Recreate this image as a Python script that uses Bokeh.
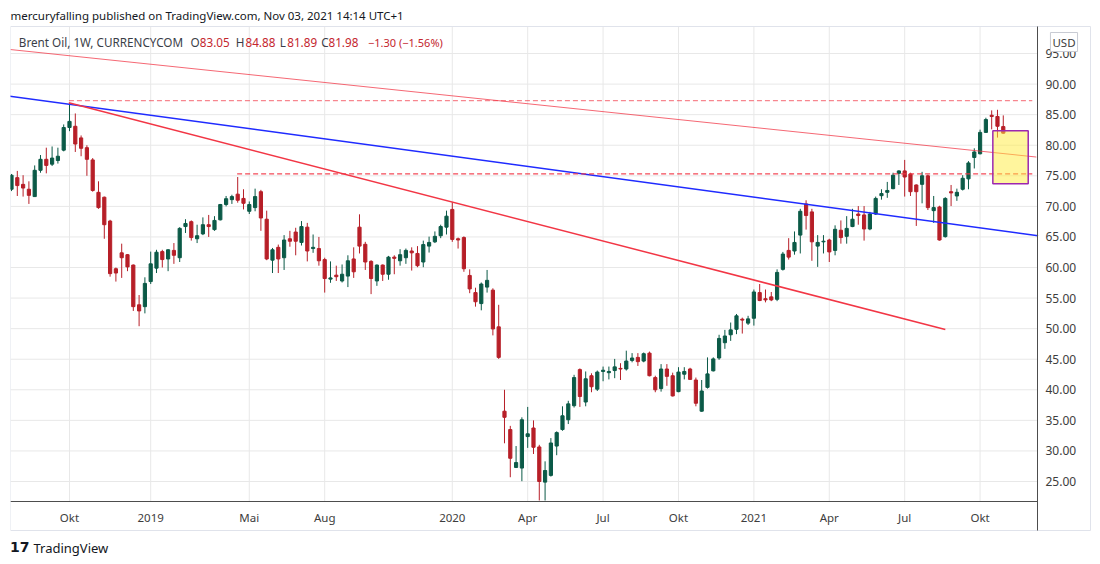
import pandas as pd
import numpy as np
from bokeh.plotting import figure
from bokeh.models import Range1d, FixedTicker, NumeralTickFormatter, Label, ColumnDataSource
from bokeh.embed import file_html
from bokeh.resources import INLINE

# ---------------- data ----------------
first_week = "2018-07-23"

opens = [72.8, 74.7, 73.6, 72.8, 71.6, 75.9, 77.7, 76.9, 77.5, 79.2,
         82.9, 83.1, 81.2, 79.6, 77.6, 72.3, 71.5, 67.6, 59.8, 62.4,
         62.1, 60.4, 53.9, 53.6, 57.7, 59.9, 62.6, 61.4, 62.8, 61.6,
         66.7, 67.5, 64.7, 65.5, 67.0, 66.2, 67.8, 70.3, 71.1, 72.0,
         71.3, 69.2, 69.8, 72.4, 67.9, 61.2, 63.3, 61.6, 64.7, 65.8,
         64.1, 66.6, 63.1, 63.1, 61.3, 58.1, 58.75, 57.8, 58.6, 61.4,
         66.6, 63.8, 61.0, 57.8, 60.4, 58.9, 61.7, 61.1, 61.6, 62.7,
         62.3, 60.9, 63.5, 64.2, 65.2, 66.6, 69.5, 64.7, 64.9, 58.7,
         55.9, 54.1, 56.8, 56.3, 50.3, 36.5, 33.5, 27.3, 27.2, 32.35,
         33.75, 30.65, 24.9, 26.0, 30.8, 33.5, 35.1, 37.4, 43.3, 38.0,
         42.3, 40.1, 43.0, 42.8, 43.15, 43.5, 43.4, 44.8, 45.3, 44.7,
         46.0, 42.0, 40.2, 43.4, 42.3, 39.7, 42.55, 43.4, 41.6, 36.5,
         40.4, 43.1, 45.2, 47.7, 49.0, 49.9, 51.55, 50.9, 51.7, 55.9,
         54.9, 55.2, 54.8, 59.7, 62.8, 62.7, 65.3, 70.4, 69.1, 63.5,
         64.2, 64.5, 62.8, 66.1, 65.1, 66.7, 68.75, 68.6, 66.3, 68.75,
         71.75, 72.3, 72.9, 75.4, 75.8, 75.3, 73.5, 73.6, 75.0, 69.3,
         69.9, 65.05, 72.4, 71.7, 72.8, 74.5, 78.0, 78.6, 82.1, 84.9,
         84.7, 83.05]
highs = [75.3, 75.8, 75.1, 74.1, 76.7, 78.4, 79.6, 79.8, 79.6, 83.4,
         86.9, 85.2, 81.6, 80.0, 77.9, 74.1, 71.6, 67.8, 60.0, 63.9,
         62.2, 60.5, 55.5, 58.4, 62.6, 62.9, 62.9, 63.0, 64.0, 66.6,
         67.9, 67.7, 67.0, 68.2, 68.6, 68.4, 70.4, 71.7, 71.9, 74.8,
         72.8, 70.8, 72.9, 72.7, 69.3, 63.2, 63.75, 65.3, 66.0, 66.5,
         67.6, 67.3, 65.4, 65.0, 61.6, 61.0, 60.3, 60.5, 62.0, 63.3,
         68.7, 64.2, 61.2, 60.5, 60.5, 61.9, 62.0, 63.0, 63.1, 63.3,
         63.5, 64.4, 65.05, 65.9, 67.0, 69.3, 70.7, 64.9, 65.1, 59.7,
         56.7, 57.55, 59.6, 56.6, 53.9, 40.0, 34.1, 30.8, 35.5, 37.2,
         35.0, 31.0, 28.3, 32.1, 33.2, 37.3, 38.2, 42.45, 43.5, 43.0,
         42.7, 43.15, 43.8, 43.8, 45.05, 44.35, 46.4, 46.0, 46.0, 46.1,
         46.25, 42.3, 44.2, 44.2, 42.8, 43.7, 43.7, 43.6, 42.0, 41.6,
         45.3, 45.3, 49.0, 49.8, 51.0, 52.4, 51.8, 52.1, 56.4, 57.3,
         56.4, 56.0, 59.7, 62.55, 64.8, 65.9, 69.6, 71.0, 69.6, 65.3,
         65.3, 64.7, 66.9, 67.7, 68.4, 69.6, 70.05, 70.05, 69.1, 71.6,
         72.8, 74.0, 75.5, 75.9, 77.6, 75.5, 73.6, 75.65, 75.2, 71.7,
         70.1, 71.5, 73.5, 72.9, 75.1, 77.4, 79.5, 82.55, 84.5, 85.7,
         85.8, 84.88]
lows = [72.5, 71.7, 71.6, 70.4, 71.6, 75.5, 75.4, 76.6, 77.0, 79.0,
        82.3, 78.9, 78.2, 75.0, 72.4, 69.6, 64.7, 58.5, 57.7, 58.3,
        59.4, 52.9, 50.4, 52.5, 57.3, 59.1, 60.0, 59.4, 60.6, 60.9,
        65.65, 64.4, 64.0, 65.3, 65.0, 66.0, 67.7, 70.0, 70.4, 70.6,
        69.5, 68.75, 69.2, 66.0, 61.2, 59.1, 59.1, 59.6, 63.4, 62.0,
        63.6, 61.0, 62.4, 60.3, 55.9, 57.5, 57.8, 57.55, 56.8, 58.3,
        62.3, 59.6, 55.65, 57.0, 57.8, 58.0, 58.9, 60.3, 60.6, 59.5,
        60.05, 60.05, 62.45, 64.0, 64.8, 65.4, 64.2, 63.1, 59.3, 55.8,
        53.6, 53.0, 55.9, 48.9, 45.05, 31.25, 25.7, 27.2, 25.05, 30.5,
        29.5, 21.9, 21.9, 25.8, 29.3, 33.3, 34.4, 37.1, 37.2, 37.3,
        39.6, 39.8, 41.4, 41.7, 41.9, 41.6, 43.15, 44.5, 43.9, 44.5,
        42.2, 39.6, 39.7, 40.65, 38.9, 39.6, 41.7, 41.6, 37.3, 36.4,
        40.2, 43.0, 44.9, 46.7, 48.0, 49.1, 49.2, 50.6, 50.5, 54.5,
        54.3, 54.5, 54.5, 59.5, 61.3, 62.1, 62.3, 66.2, 61.1, 60.1,
        62.3, 60.9, 62.0, 63.9, 63.9, 66.6, 67.0, 64.4, 66.1, 68.6,
        71.1, 71.4, 72.8, 73.5, 71.6, 71.7, 66.8, 70.5, 69.4, 67.3,
        64.4, 64.9, 70.05, 70.9, 72.6, 72.8, 76.2, 78.5, 82.05, 82.6,
        81.25, 81.89]
closes = [75.1, 73.4, 73.0, 71.8, 75.9, 77.7, 76.7, 77.9, 78.2, 82.9,
          83.9, 80.2, 79.5, 77.7, 72.6, 69.8, 67.0, 59.0, 59.1, 61.6,
          60.1, 53.6, 52.9, 57.4, 60.6, 62.5, 61.3, 62.9, 62.0, 66.4,
          67.2, 64.9, 65.2, 67.0, 66.7, 67.7, 70.3, 71.25, 71.6, 71.0,
          70.5, 70.3, 71.6, 68.1, 61.4, 62.9, 61.4, 64.5, 64.3, 64.3,
          66.7, 62.7, 63.3, 61.1, 58.2, 58.3, 58.5, 58.9, 61.1, 59.3,
          63.5, 60.9, 58.2, 60.4, 58.9, 61.7, 61.5, 62.1, 62.8, 62.4,
          60.3, 63.75, 64.1, 65.1, 66.7, 68.4, 64.6, 64.5, 59.8, 56.5,
          54.4, 57.3, 57.9, 49.95, 45.3, 35.5, 28.8, 28.1, 35.1, 32.8,
          30.6, 25.0, 26.8, 31.3, 33.0, 35.75, 37.7, 42.0, 38.9, 41.8,
          40.5, 42.9, 43.2, 43.0, 43.75, 43.4, 44.7, 45.2, 44.6, 45.9,
          42.3, 40.0, 43.4, 42.2, 39.0, 42.9, 43.0, 41.7, 37.8, 39.8,
          42.6, 45.05, 48.4, 48.8, 49.8, 52.1, 51.4, 51.6, 56.0, 54.6,
          54.7, 54.7, 59.2, 62.2, 61.7, 64.1, 69.2, 68.5, 64.2, 64.1,
          64.3, 62.55, 66.25, 64.9, 66.4, 67.9, 68.5, 66.3, 68.75, 71.3,
          72.1, 72.6, 75.1, 75.8, 74.8, 72.4, 72.4, 75.0, 69.8, 69.8,
          64.5, 71.3, 72.2, 72.3, 74.6, 77.1, 78.9, 82.1, 84.2, 84.7,
          83.1, 81.98]

tick_months = ["2018-10", "2019-01", "2019-05", "2019-08", "2020-01", "2020-04",
               "2020-07", "2020-10", "2021-01", "2021-04", "2021-07", "2021-10"]
tick_labels = ["Okt", "2019", "Mai", "Aug", "2020", "Apr", "Jul", "Okt",
               "2021", "Apr", "Jul", "Okt"]
price_ticks = [25, 30, 35, 40, 45, 50, 55, 60, 65, 70, 75, 80, 85, 90, 95]

# drawings: (bar index, price)
upper_trend_x = [-0.17, 176.7]
upper_trend_y = [95.65, 78.07]
blue_trend_x = [-1.03, 177.0]
blue_trend_y = [88.13, 65.18]
red_trend_x = [9.88, 161.0]
red_trend_y = [86.94, 49.86]
high_level_x = [9.9, 176.0]
high_level_y = [87.3, 87.3]
mid_level_x = [38.9, 176.0]
mid_level_y = [75.3, 75.3]
box_left, box_right = 169.2, 175.3
box_top, box_bottom = 82.36, 73.7

# visible pane: bar/price extents
bar_left, bar_right = -0.1724, 176.9
price_bottom, price_top = 21.73, 99.42

# ---------------- layout (pixels) ----------------
W, H = 1100, 564
PANE_L, PANE_R, PANE_T, PANE_B = 10, 1037, 26, 501
BORDER_R, BORDER_B = 1090, 530

px_bar = (PANE_R - PANE_L) / (bar_right - bar_left)
px_price = (PANE_B - PANE_T) / (price_top - price_bottom)
x_end = bar_left + (W - PANE_L) / px_bar
y_hi = price_top + PANE_T / px_price
y_lo = price_bottom - (H - PANE_B) / px_price
border_bar = bar_left + (BORDER_R - PANE_L) / px_bar
border_price = price_bottom - (BORDER_B - PANE_B) / px_price

# ---------------- derived ----------------
n = len(opens)
dates = pd.date_range(first_week, periods=n, freq="7D")
idx = np.arange(n)
o = np.array(opens); h = np.array(highs); l = np.array(lows); c = np.array(closes)
GREEN = "#0b5a47"
RED = "#b71f28"
cols = [GREEN if cc >= oo else RED for oo, cc in zip(o, c)]
src = ColumnDataSource(dict(x=idx, o=o, h=h, l=l, c=c,
                            top=np.maximum(o, c), bot=np.minimum(o, c), col=cols))

month_str = dates.strftime("%Y-%m")
tick_idx = [int(np.where(month_str == m)[0][0]) for m in tick_months]

FONT = "Noto Sans"
DARK = "#131722"

p = figure(width=W, height=H, output_backend="svg", toolbar_location=None,
           x_range=Range1d(bar_left, x_end), y_range=Range1d(y_lo, y_hi),
           y_axis_location="right",
           min_border_left=PANE_L, min_border_right=0, min_border_top=0, min_border_bottom=0)
p.background_fill_color = "white"
p.border_fill_color = "white"
p.outline_line_color = None
p.grid.visible = False

# grid lines (drawn inside the pane only)
p.segment(x0=tick_idx, x1=tick_idx, y0=[price_bottom] * len(tick_idx),
          y1=[price_top] * len(tick_idx), line_color="#e8e8e8", line_width=1, level="underlay")
p.segment(x0=[bar_left] * len(price_ticks), x1=[bar_right] * len(price_ticks),
          y0=price_ticks, y1=price_ticks, line_color="#e8e8e8", line_width=1, level="underlay")
# outer border of the chart widget
p.quad(left=[bar_left], right=[border_bar], top=[price_top], bottom=[border_price],
       fill_color=None, line_color="#e0e3eb", line_width=1, level="underlay")

# axes, pinned to the pane edges
xa = p.xaxis[0]
ya = p.yaxis[0]
xa.ticker = FixedTicker(ticks=tick_idx)
xa.major_label_overrides = {t: lab for t, lab in zip(tick_idx, tick_labels)}
xa.fixed_location = price_bottom
xa.bounds = (bar_left, bar_right)
ya.ticker = FixedTicker(ticks=price_ticks)
ya.formatter = NumeralTickFormatter(format="0.00")
ya.fixed_location = bar_right
ya.bounds = (border_price, price_top)
for ax in (xa, ya):
    ax.axis_line_color = "#4d4d4d"
    ax.major_tick_line_color = None
    ax.minor_tick_line_color = None
    ax.major_tick_out = 0
    ax.major_tick_in = 0
    ax.major_label_text_font = FONT
    ax.major_label_text_color = "#3d3d3d"
    ax.major_label_standoff = 8
xa.major_label_text_font_size = "11.5px"
ya.major_label_text_font_size = "12px"

# candles
p.segment(x0="x", y0="l", x1="x", y1="h", color="col", line_width=1, source=src)
p.vbar(x="x", width=0.55, top="top", bottom="bot", fill_color="col", line_color="col",
       line_width=1, source=src)

# drawings
p.line(upper_trend_x, upper_trend_y, line_color="#f23645", line_alpha=0.75, line_width=1)
p.line(blue_trend_x, blue_trend_y, line_color="#1f2bff", line_width=1.5)
p.line(red_trend_x, red_trend_y, line_color="#f23645", line_width=1.5)
p.line(high_level_x, high_level_y, line_color="#f23645", line_alpha=0.6, line_width=1.2,
       line_dash="5 3")
p.line(mid_level_x, mid_level_y, line_color="#f23645", line_alpha=0.9, line_width=1.2,
       line_dash="5 3")
p.quad(left=[box_left], right=[box_right], top=[box_top], bottom=[box_bottom],
       fill_color="#ffeb3b", fill_alpha=0.5, line_color="#9c27b0", line_width=1.5)


# texts (canvas pixel coords -> frame screen coords)
def txt(s, rx, ry, size="11.7px", color=DARK, align="left", style="normal", font=FONT, **kw):
    p.add_layout(Label(x=rx - PANE_L, y=H - ry, x_units="screen", y_units="screen", text=s,
                       text_font=font, text_font_size=size, text_color=color,
                       text_align=align, text_baseline="middle", text_font_style=style, **kw))


GREY = "#3a3e48"
VAL = "#c4262e"
txt("mercuryfalling published on TradingView.com, Nov 03, 2021 14:14 UTC+1", 10, 14.5,
    size="11.5px")
txt("Brent Oil, 1W, CURRENCYCOM", 18.3, 41.7, color=GREY)
txt("O", 190, 41.7, color=GREY)
txt("83.05", 199.3, 41.7, color=VAL)
txt("H", 235.3, 41.7, color=GREY)
txt("84.88", 245, 41.7, color=VAL)
txt("L", 279.3, 41.7, color=GREY)
txt("81.89", 286.7, 41.7, color=VAL)
txt("C", 320.7, 41.7, color=GREY)
txt("81.98", 328, 41.7, color=VAL)
txt("\u22121.30 (\u22121.56%)", 367.5, 41.7, size="11px", color=VAL)
txt("USD", 1063.5, 41.5, size="11.5px", color="#3d3d3d", align="center",
    background_fill_color="white", border_line_color="#c8cbd3", border_line_width=1,
    padding=2)
txt("17", 9.5, 546.5, size="14px", style="bold", font="DejaVu Sans")
txt("TradingView", 33, 547, size="13px")

open("out.html", "w").write(file_html(p, INLINE))
